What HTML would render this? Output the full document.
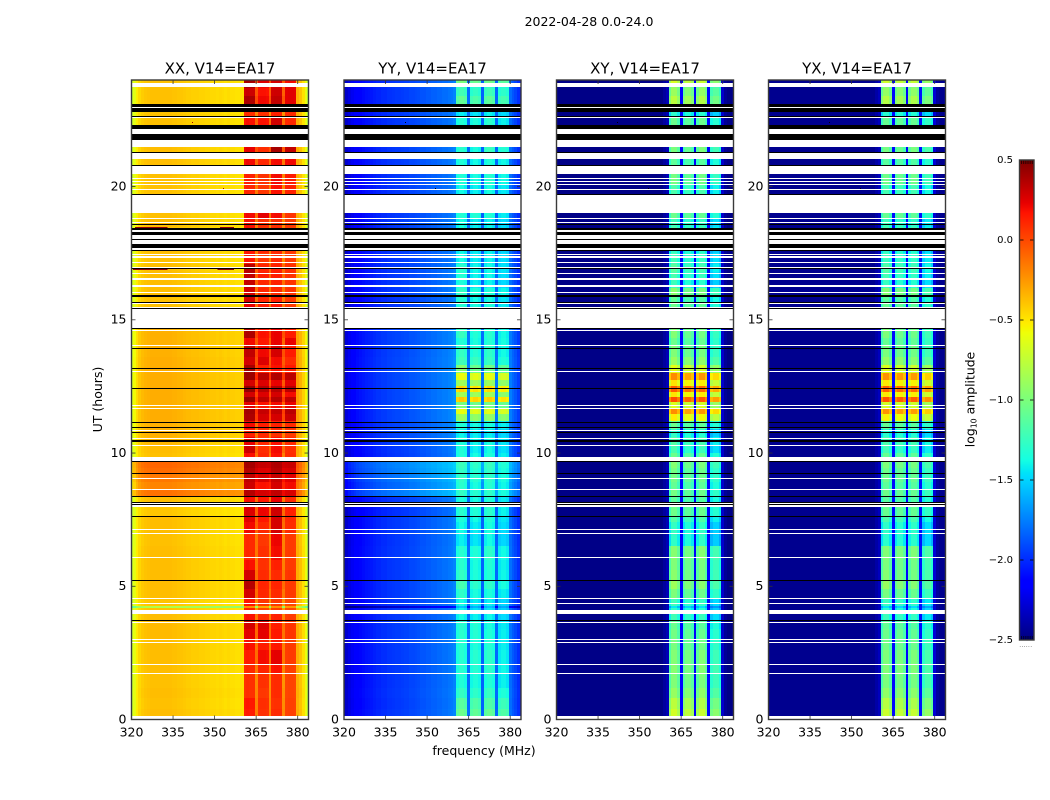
<!DOCTYPE html>
<html lang="en">
<head>
<meta charset="utf-8">
<title>2022-04-28 0.0-24.0</title>
<style>
html,body{margin:0;padding:0;background:#fff;width:1050px;height:800px;overflow:hidden}
svg{display:block}
text{font-family:"DejaVu Sans","Liberation Sans",sans-serif;fill:#000}
</style>
</head>
<body>
<svg id="chart" width="1050" height="800" viewBox="0 0 1050 800" xmlns="http://www.w3.org/2000/svg">
  <text x="589" y="26" text-anchor="middle" font-size="12.5">2022-04-28 0.0-24.0</text>
  <text transform="translate(102,399.5) rotate(-90)" text-anchor="middle" font-size="12.5">UT (hours)</text>
  <text x="484" y="755" text-anchor="middle" font-size="12.5">frequency (MHz)</text>
  <text transform="translate(974.5,399.5) rotate(-90)" text-anchor="middle" font-size="12.4">log<tspan font-size="7.8" dy="2">10</tspan><tspan dy="-2"> amplitude</tspan></text>
  <text x="1026" y="647" text-anchor="middle" font-size="5" letter-spacing="0.6" fill="#666">......</text>
</svg>
<script>
// ---------- categories and tick labels ----------
const panelTitles = ['XX, V14=EA17', 'YY, V14=EA17', 'XY, V14=EA17', 'YX, V14=EA17'];
const freqTicks = [320, 335, 350, 365, 380];
const utTicks = [0, 5, 10, 15, 20];
const colorTicks = [0.5, 0.0, -0.5, -1.0, -1.5, -2.0, -2.5];
const firstChannelMHz = 320;
const bandStartMHz = [361, 366, 371, 376];

// ---------- log10 amplitude spectra, channels 320..384 MHz ----------
const spectrumXX = [
 -.70,-.60,-.50,-.43,-.39,-.37,-.36,-.35,-.35,-.35,
 -.35,-.35,-.35,-.35,-.35,-.36,-.36,-.37,-.37,-.38,
 -.39,-.39,-.40,-.40,-.40,-.41,-.41,-.42,-.42,-.43,
 -.43,-.44,-.43,-.44,-.45,-.44,-.45,-.45,-.46,-.46,
 -.46,.07,.09,.08,.08,
 -.18,.05,.06,.06,.05,
 -.20,.07,.08,.08,.07,
 -.22,.04,.05,.05,.04,
 -.30,-.36,-.46,-.58,-.75];
const spectrumYY = [
 -2.35,-2.28,-2.22,-2.18,-2.15,-2.12,-2.10,-2.08,-2.06,-2.05,
 -2.04,-2.02,-2.00,-2.00,-1.98,-1.98,-1.96,-1.96,-1.95,-1.94,
 -1.94,-1.93,-1.92,-1.92,-1.90,-1.90,-1.89,-1.88,-1.86,-1.86,
 -1.84,-1.84,-1.82,-1.82,-1.80,-1.80,-1.78,-1.78,-1.76,-1.75,
 -1.72,-1.38,-1.33,-1.33,-1.38,
 -1.78,-1.40,-1.35,-1.35,-1.40,
 -1.82,-1.38,-1.33,-1.33,-1.38,
 -1.80,-1.44,-1.40,-1.40,-1.44,
 -1.78,-1.85,-1.90,-1.97,-2.08];
const spectrumXY = [
 -2.48,-2.48,-2.48,-2.48,-2.48,-2.48,-2.48,-2.48,-2.48,-2.48,
 -2.48,-2.48,-2.48,-2.48,-2.48,-2.48,-2.48,-2.48,-2.48,-2.48,
 -2.48,-2.48,-2.48,-2.48,-2.48,-2.48,-2.48,-2.48,-2.48,-2.48,
 -2.48,-2.48,-2.48,-2.48,-2.48,-2.48,-2.48,-2.48,-2.48,-2.42,
 -2.36,-1.18,-.98,-.98,-1.12,
 -2.12,-1.16,-1.04,-1.04,-1.14,
 -2.18,-1.14,-1.00,-1.00,-1.14,
 -2.12,-1.30,-1.22,-1.22,-1.34,
 -2.30,-2.44,-2.48,-2.48,-2.48];
const spectrumYX = [
 -2.46,-2.46,-2.46,-2.46,-2.46,-2.46,-2.46,-2.46,-2.46,-2.46,
 -2.46,-2.46,-2.46,-2.46,-2.46,-2.46,-2.46,-2.46,-2.46,-2.46,
 -2.46,-2.46,-2.46,-2.46,-2.46,-2.46,-2.46,-2.46,-2.46,-2.46,
 -2.46,-2.46,-2.46,-2.46,-2.46,-2.46,-2.46,-2.46,-2.46,-2.40,
 -2.34,-1.18,-1.00,-1.00,-1.14,
 -2.10,-1.14,-1.02,-1.02,-1.14,
 -2.14,-1.14,-1.02,-1.02,-1.16,
 -2.08,-1.28,-1.18,-1.18,-1.30,
 -2.28,-2.42,-2.46,-2.46,-2.46];

// ---------- time rows: start (UT hours) and per-row offsets ----------
const rowStartUT = [
 0,.4,.8,1.2,1.7,2.1,2.6,3,3.4,3.7,
 4.1,4.18,4.25,4.55,4.9,5.2,5.6,6,6.5,7,
 7.4,7.6,8,8.4,8.65,8.9,9.2,9.45,9.7,10,
 10.3,10.6,10.9,11.2,11.45,11.7,11.9,12.1,12.3,12.5,
 12.75,13,13.3,13.6,14,14.3,14.7,15.4,15.6,15.9,
 16.2,16.5,16.8,17.1,17.5,17.8,18.2,18.5,18.8,19,
 19.7,20.1,20.5,20.8,21.05,21.26,21.5,22.3,22.6,22.8,
 23.1,23.4,23.7,23.9];
const lowOffset = [
 -.02,-.03,-.02,-.03,-.02,-.02,-.02,-.01,-.01,-.02,
 -.04,-.45,-.04,-.02,-.02,-.02,-.02,-.02,-.03,-.02,
 -.02,-.05,-.02,.22,.16,.20,.24,.26,-.03,-.02,
 0,.02,.02,.03,.03,.03,.03,.03,.03,.03,
 .03,.03,.03,.02,.02,.02,0,-.03,-.03,-.02,
 -.02,-.02,-.02,-.03,-.02,0,-.02,-.02,-.03,0,
 -.03,-.03,0,-.02,0,-.02,0,-.03,-.03,-.02,
 -.03,-.03,-.03,-.03];
const bandAOffset = [
 .06,.08,0,0,.02,.06,.10,.16,.20,.10,
 .05,-.30,.08,.20,.28,.20,.10,.02,.02,.12,
 .16,.18,.10,.28,.22,.25,.28,.32,.10,.22,
 .15,.05,.12,.30,.32,.15,.35,.20,.36,.20,
 .35,.32,.20,.25,.12,.30,0,.15,.20,.20,
 .24,.25,.28,.08,.08,.10,.10,.10,.12,0,
 .03,.05,0,.12,0,.15,0,.10,0,.08,
 .30,.22,.30,.32];
const bandBOffset = [
 .02,.03,0,.02,.06,.14,.08,.18,.20,.05,
 -.05,-.35,0,.05,.06,.04,.02,.02,0,.05,
 .10,.16,.10,.22,.12,.22,.20,.26,.05,.03,
 .05,.05,.08,.22,.26,.12,.28,.20,.30,.20,
 .30,.08,.20,.15,.10,.12,0,.08,.05,.05,
 .05,.08,.06,0,.05,.02,0,.02,.18,0,
 0,.02,0,.05,0,.03,0,.12,.02,.08,
 .15,.12,.15,.20];
const bandCOffset = [
 .02,0,.02,.02,.10,.16,.08,.08,.06,.05,
 -.05,-.30,-.03,.02,.04,.02,.05,.12,.14,.20,
 .20,.22,.15,.25,.20,.24,.28,.30,.10,.12,
 .10,0,.05,.20,.25,.12,.28,.20,.28,.15,
 .30,.10,.12,.20,.15,.15,0,.08,.05,.02,
 .05,.06,.05,.02,.03,.02,.02,0,.12,0,
 .10,.12,0,.12,0,.32,0,.22,.05,.10,
 .25,.22,.20,.20];
const bandDOffset = [
 -.02,-.02,-.03,-.03,-.02,0,0,.02,.02,0,
 -.05,-.30,-.04,0,0,.02,0,0,0,.05,
 .06,.08,.05,.22,.15,.20,.22,.26,.05,.04,
 .05,0,.05,.26,.30,.18,.28,.15,.30,.20,
 .30,.10,.05,.10,.18,.10,0,0,0,.02,
 .02,.02,.03,0,0,0,-.02,0,.02,0,
 .08,.10,0,.16,0,.28,0,.06,.05,.10,
 .20,.20,.20,.15];
const crossOffset = [
 .28,.20,.08,0,.02,0,-.05,-.08,-.12,-.25,
 -.30,-.40,-.25,-.05,.05,0,-.02,.02,-.30,-.30,
 -.20,-.10,-.15,-.10,-.15,-.10,-.10,-.05,-.10,-.25,
 -.20,-.30,-.10,.40,.70,.30,.90,.45,.85,.45,
 .70,.30,.05,-.05,-.10,-.05,0,-.10,-.15,0,
 -.30,-.25,-.20,-.25,-.30,-.15,-.20,-.25,-.10,0,
 -.20,-.05,0,-.15,0,-.05,0,-.10,-.30,-.10,
 .15,.05,0,.25];

// ---------- flagged intervals (UT hours) ----------
const blankIntervalsUT = [
 [0,.14],[1.71,1.75],[2.05,2.09],[2.88,2.92],[2.99,3.03],[3.63,3.67],[3.96,4.11],[4.34,4.38],[4.53,4.57],
 [6.07,6.11],[6.97,7.01],[7.12,7.16],[7.98,8.05],[8.09,8.13],[8.62,8.66],[9.03,9.07],[9.69,9.85],
 [10.27,10.31],[10.52,10.56],[10.84,10.88],[11.66,11.70],[11.76,11.80],[13.05,13.09],[14.02,14.06],
 [14.58,14.62],[14.70,15.41],[15.45,15.48],[15.58,15.64],[15.99,16.04],[16.25,16.29],[16.49,16.57],
 [16.73,16.77],[16.93,16.99],[17.14,17.18],[17.31,17.39],[17.44,17.47],[17.62,17.68],[17.84,17.99],
 [18.03,18.18],[18.30,18.37],[18.62,18.68],[18.79,18.83],[19.01,19.69],[19.88,19.92],[20.06,20.09],
 [20.17,20.21],[20.28,20.32],[20.47,20.78],[21.03,21.26],[21.48,21.75],[21.97,22.17],[22.58,22.61],
 [22.94,22.97],[23.74,23.89]];
const zeroIntervalsUT = [
 [3.71,3.75],[5.20,5.24],[7.60,7.64],[8.06,8.10],[8.13,8.17],[8.35,8.39],[9.22,9.26],[9.67,9.71],
 [10.43,10.49],[10.74,10.78],[10.94,10.98],[11.13,11.17],[12.41,12.45],[13.14,13.18],[13.91,13.95],
 [14.66,14.70],[15.41,15.45],[15.62,15.65],[15.87,15.93],[16.89,16.93],[17.59,17.62],[17.68,17.84],
 [17.99,18.03],[18.18,18.30],[18.37,18.43],[18.54,18.58],[19.69,19.74],[20.78,20.80],[21.26,21.29],
 [21.75,21.97],[22.17,22.31],[22.61,22.65],[22.81,22.94],[22.97,23.09]];
const rfiSpans = [[18.47,321.3,333],[18.47,352,357],[16.91,320.5,333],[16.91,351,357]];
const rfiDots = [[22.43,342],[19.93,353]];

// ---------- layout ----------
const spectra = [spectrumXX, spectrumYY, spectrumXY, spectrumYX];
const panelLeft = [131.5, 344, 556.5, 768.5];
const panelWidth = 177;
const plotTop = 80, plotBottom = 719.5;
const pxPerMHz = 2.77;
const barLeft = 1019.5, barRight = 1034, barTop = 160, barBottom = 640;
const cMin = -2.5, cMax = 0.5;

const svg = document.getElementById('chart');
const NS = 'http://www.w3.org/2000/svg';

function xScale(p, f) { return panelLeft[p] + (f - 320) * pxPerMHz; }
function yScale(h) { return plotBottom - (h / 24) * (plotBottom - plotTop); }
function cScale(v) { return barBottom - (v - cMin) / (cMax - cMin) * (barBottom - barTop); }

function lerpSeg(t, pts) {
  for (let i = 1; i < pts.length; i++) {
    if (t <= pts[i][0]) {
      const a = pts[i - 1], b = pts[i];
      return a[1] + (b[1] - a[1]) * (t - a[0]) / (b[0] - a[0]);
    }
  }
  return pts[pts.length - 1][1];
}
function jet(v) {
  const t = Math.max(0, Math.min(1, (v - cMin) / (cMax - cMin)));
  const r = lerpSeg(t, [[0, 0], [.35, 0], [.66, 1], [.89, 1], [1, .5]]);
  const g = lerpSeg(t, [[0, 0], [.125, 0], [.375, 1], [.64, 1], [.91, 0], [1, 0]]);
  const b = lerpSeg(t, [[0, .5], [.11, 1], [.34, 1], [.65, 0], [1, 0]]);
  return 'rgb(' + Math.round(r * 255) + ',' + Math.round(g * 255) + ',' + Math.round(b * 255) + ')';
}
function make(tag, attrs, parent) {
  const el = document.createElementNS(NS, tag);
  for (const k in attrs) el.setAttribute(k, attrs[k]);
  parent.appendChild(el);
  return el;
}
function bandIndex(f) {
  for (let i = 0; i < bandStartMHz.length; i++) {
    if (f >= bandStartMHz[i] && f < bandStartMHz[i] + 4) return i;
  }
  return -1;
}
function cellValue(p, c, r) {
  const f = firstChannelMHz + c;
  const base = spectra[p][c];
  const b = bandIndex(f);
  const off = b === 0 ? bandAOffset[r] : b === 1 ? bandBOffset[r] : b === 2 ? bandCOffset[r] : b === 3 ? bandDOffset[r] : 0;
  const cross = crossOffset[r];
  if (p === 0) return b >= 0 ? base + off : base + lowOffset[r] + (f >= 361 && f < 380 ? (bandAOffset[r] + bandCOffset[r]) * 0.4 : 0);
  if (p === 1) return b >= 0 ? base + (cross > 0 ? 0.9 : 0.3) * cross + 0.35 * off : base + 0.8 * lowOffset[r];
  return b >= 0 ? base + cross + 0.2 * off : base;
}

function drawPanel(p) {
  const g = make('g', {}, svg);
  
  

  const left = panelLeft[p], right = left + panelWidth;
  const cells = make('g', { 'shape-rendering': 'crispEdges' }, g);
  
  

  for (let r = 0; r < rowStartUT.length; r++) {
    const end = r + 1 < rowStartUT.length ? rowStartUT[r + 1] : 24;
    const y0 = Math.round(yScale(end)), y1 = Math.round(yScale(rowStartUT[r]));
    if (y1 <= y0) continue;
    let runStart = 0, runColor = null;
    const count = spectra[p].length;
    for (let c = 0; c <= count; c++) {
      const color = c < count ? jet(cellValue(p, c, r)) : null;
      if (color !== runColor) {
        if (runColor !== null) {
          const x0 = Math.max(Math.round(left), Math.round(xScale(p, firstChannelMHz + runStart - .5)));
          const x1 = Math.min(Math.round(right), Math.round(xScale(p, firstChannelMHz + c - .5)));
          if (x1 > x0) {
            const cell = make('rect', { x: x0, y: y0, width: x1 - x0, height: y1 - y0, fill: runColor }, cells);
            
            
          }
        }
        runStart = c;
        runColor = color;
      }
    }
  }

  if (p === 0) {
    rfiSpans.forEach(function (s) {
      const y = Math.round(yScale(s[0]));
      const span = make('rect', { x: xScale(p, s[1]), y: y, width: (s[2] - s[1]) * pxPerMHz, height: 1, fill: jet(0.45) }, cells);
      
      
    });
  }
  rfiDots.forEach(function (d) {
    const dot = make('rect', { x: Math.round(xScale(p, d[1])), y: Math.round(yScale(d[0])), width: 1, height: 1, fill: p === 0 ? jet(0.4) : '#000' }, cells);
    
    
  });

  blankIntervalsUT.forEach(function (iv) {
    const y0 = Math.round(yScale(iv[1])), y1 = Math.round(yScale(iv[0]));
    const band = make('rect', { x: Math.round(left), y: y0, width: Math.round(right) - Math.round(left), height: Math.max(1, y1 - y0), fill: '#fff' }, cells);
    
    
  });
  zeroIntervalsUT.forEach(function (iv) {
    const y0 = Math.round(yScale(iv[1])), y1 = Math.round(yScale(iv[0]));
    const band = make('rect', { x: Math.round(left), y: y0, width: Math.round(right) - Math.round(left), height: Math.max(1, y1 - y0), fill: '#000' }, cells);
    
    
  });

  freqTicks.forEach(function (f) {
    const x = xScale(p, f);
    const tb = make('line', { x1: x, x2: x, y1: plotBottom, y2: plotBottom - 4, stroke: '#333', 'stroke-width': .8 }, g);
    
    
    const tt = make('line', { x1: x, x2: x, y1: plotTop, y2: plotTop + 4, stroke: '#333', 'stroke-width': .8 }, g);
    
    
    const lab = make('text', { x: x, y: 736.5, 'text-anchor': 'middle', 'font-size': 12.5 }, g);
    
    
    lab.textContent = f;
  });
  utTicks.forEach(function (h) {
    const y = yScale(h);
    const tl = make('line', { x1: left, x2: left + 4, y1: y, y2: y, stroke: '#333', 'stroke-width': .8 }, g);
    
    
    const tr = make('line', { x1: right, x2: right - 4, y1: y, y2: y, stroke: '#333', 'stroke-width': .8 }, g);
    
    
    const lab = make('text', { x: left - 5, y: y + 3.8, 'text-anchor': 'end', 'font-size': 12.5 }, g);
    
    
    lab.textContent = h;
  });

  const frame = make('rect', { x: left, y: plotTop, width: panelWidth, height: plotBottom - plotTop, fill: 'none', stroke: '#3a3a3a', 'stroke-width': 1.4 }, g);
  
  

  const title = make('text', { x: left + panelWidth / 2, y: 73.5, 'text-anchor': 'middle', 'font-size': 15 }, g);
  
  
  title.textContent = panelTitles[p];
}

function drawColorbar() {
  const g = make('g', {}, svg);
  
  
  const steps = Math.round(barBottom - barTop);
  const strips = make('g', { 'shape-rendering': 'crispEdges' }, g);
  
  
  for (let i = 0; i < steps; i++) {
    const v = cMin + (i + .5) / steps * (cMax - cMin);
    const s = make('rect', { x: barLeft, y: barBottom - i - 1, width: barRight - barLeft, height: 1, fill: jet(v) }, strips);
    
    
  }
  for (let i = 0; i < 6; i++) {
    const x = barLeft + 2.2 + i * 2.1;
    const a = make('line', { x1: x, x2: x, y1: barTop, y2: barTop + 4, stroke: '#000', 'stroke-width': .7 }, g);
    
    
    const b = make('line', { x1: x, x2: x, y1: barBottom, y2: barBottom - 4, stroke: '#000', 'stroke-width': .7 }, g);
    
    
  }
  colorTicks.forEach(function (v) {
    const y = cScale(v);
    const l = make('line', { x1: barLeft, x2: barLeft + 4, y1: y, y2: y, stroke: '#000', 'stroke-width': .8 }, g);
    
    
    const r = make('line', { x1: barRight, x2: barRight - 4, y1: y, y2: y, stroke: '#000', 'stroke-width': .8 }, g);
    
    
    const lab = make('text', { x: 1013, y: y + 3, 'text-anchor': 'end', 'font-size': 10 }, g);
    
    
    lab.textContent = v.toFixed(1).replace('-', '\u2212');
  });
  const frame = make('rect', { x: barLeft, y: barTop, width: barRight - barLeft, height: barBottom - barTop, fill: 'none', stroke: '#3a3a3a', 'stroke-width': 1.4 }, g);
  
  
}

for (let p = 0; p < panelTitles.length; p++) drawPanel(p);
drawColorbar();
</script>
</body>
</html>
